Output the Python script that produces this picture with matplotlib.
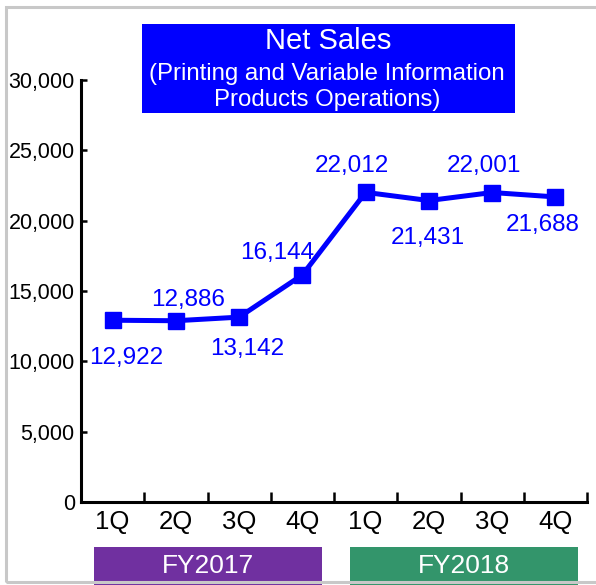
import matplotlib
matplotlib.use("Agg")
import matplotlib.pyplot as plt
from matplotlib.patches import Rectangle

plt.rcParams["font.family"] = ["Liberation Sans", "DejaVu Sans"]

# Quarterly net sales
quarters = ["1Q", "2Q", "3Q", "4Q", "1Q", "2Q", "3Q", "4Q"]
net_sales = [12922, 12886, 13142, 16144, 22012, 21431, 22001, 21688]
fiscal_years = ["FY2017", "FY2018"]
y_ticks = [0, 5000, 10000, 15000, 20000, 25000, 30000]

title_main = "Net Sales"
title_sub = "(Printing and Variable Information\nProducts Operations)"

# label placement around each marker (points)
label_offsets = [(10, -27), (9, 15), (6, -23), (-18, 16),
                 (-10, 19), (-1, -27), (-6, 19), (-9, -20)]

W, H = 596, 585
fig = plt.figure(figsize=(W / 100, H / 100), dpi=100)

def fx(px):
    return px / W

def fy(py):
    return 1 - py / H

ax = fig.add_axes([fx(81), fy(502), fx(587) - fx(81), fy(80) - fy(502)])

blue = "#0000FF"
xs = list(range(len(quarters)))
ax.plot(xs, net_sales, color=blue, lw=3.6, marker="s", ms=12,
        markerfacecolor=blue, markeredgecolor=blue, zorder=3)

for x, v, (dx, dy) in zip(xs, net_sales, label_offsets):
    ax.annotate(f"{v:,}", (x, v), xytext=(dx, dy), textcoords="offset points",
                ha="center", va="center", color=blue, fontsize=17.5)

ax.set_xlim(-0.5, len(quarters) - 0.5)
ax.set_ylim(0, 30000)
ax.set_yticks(y_ticks)
ax.set_yticklabels([f"{t:,}" for t in y_ticks], fontsize=15.5)
ax.set_xticks(xs)
ax.set_xticklabels(quarters, fontsize=18.5)
ax.set_xticks([i + 0.5 for i in range(-1, len(quarters))], minor=True)

ax.tick_params(axis="x", which="major", length=0, pad=6)
ax.tick_params(axis="x", which="minor", direction="in", length=7, width=1.8)
ax.tick_params(axis="y", direction="in", length=4.5, width=1.8, pad=4.5)

for s in ("top", "right"):
    ax.spines[s].set_visible(False)
for s in ("left", "bottom"):
    ax.spines[s].set_linewidth(2.2)
ax.patch.set_alpha(0)

# title box
fig.patches.append(Rectangle((fx(142), fy(113)), fx(515) - fx(142), fy(24) - fy(113),
                             transform=fig.transFigure, facecolor=blue,
                             edgecolor="none", zorder=1))
fig.text(fx(328.5), fy(41), title_main, color="white", fontsize=21,
         ha="center", va="center")
fig.text(fx(327), fy(87), title_sub, color="white", fontsize=17.3,
         ha="center", va="center", linespacing=1.2)

# fiscal-year bands
band_colors = ["#7030A0", "#33956B"]
band_spans = [(94, 322), (350, 578)]
for label, color, (x0, x1) in zip(fiscal_years, band_colors, band_spans):
    fig.patches.append(Rectangle((fx(x0), 0), fx(x1) - fx(x0), fy(547),
                                 transform=fig.transFigure, facecolor=color,
                                 edgecolor="none", zorder=1))
    fig.text(fx((x0 + x1) / 2), fy(566), label, color="white", fontsize=19,
             ha="center", va="center")

# outer frame
fig.patches.append(Rectangle((fx(5.5), fy(582)), fx(W + 10), fy(6.5) - fy(582),
                             transform=fig.transFigure, facecolor="none",
                             edgecolor="#C8C8C8", lw=2.2, zorder=5))

fig.savefig("out.png", dpi=100)
